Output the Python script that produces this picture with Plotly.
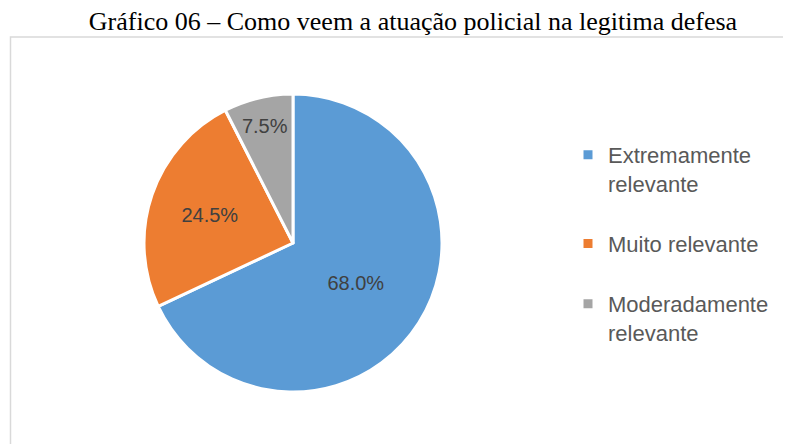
import plotly.graph_objects as go

# Data
categories = ["Extremamente relevante", "Muito relevante", "Moderadamente relevante"]
values = [68.0, 24.5, 7.5]
colors = ["#5B9BD5", "#ED7D31", "#A5A5A5"]
legend_labels = ["Extremamente<br>relevante<br> ", "Muito relevante<br> ", "Moderadamente<br>relevante"]

# page body has an 8px margin, so figure coordinates are offset by 8px
W, H = 791, 444
OFF = 8
cx, cy, r = 293 - OFF, 243 - OFF, 149

fig = go.Figure()
fig.add_trace(go.Pie(
    labels=legend_labels,
    values=values,
    customdata=categories,
    sort=False,
    direction="clockwise",
    rotation=0,
    marker=dict(colors=colors, line=dict(color="white", width=3)),
    texttemplate="%{value:.1f}%",
    textposition="inside",
    insidetextorientation="horizontal",
    textfont=dict(family="Liberation Sans", size=20, color="#404040"),
    hovertemplate="%{customdata}: %{value:.1f}%<extra></extra>",
    domain=dict(x=[(cx - r) / W, (cx + r) / W], y=[(H - cy - r) / H, (H - cy + r) / H]),
))

fig.update_layout(
    width=W, height=H,
    margin=dict(l=0, r=0, t=0, b=0),
    paper_bgcolor="white",
    title=dict(
        text="Gráfico 06 – Como veem a atuação policial na legitima defesa",
        font=dict(family="Liberation Serif", size=26, color="black"),
        x=(413 - OFF) / W, xanchor="center", xref="paper",
        y=1 - (21 - OFF) / H, yanchor="middle", yref="container",
    ),
    legend=dict(
        x=(568 - OFF) / W, xanchor="left",
        y=1 - (134 - OFF) / H, yanchor="top",
        valign="top",
        font=dict(family="Liberation Sans", size=22, color="#595959"),
        bgcolor="rgba(0,0,0,0)",
        traceorder="normal",
    ),
    showlegend=True,
    shapes=[dict(
        type="rect", xref="paper", yref="paper",
        x0=(10.5 - OFF) / W, x1=1.02, y0=-0.05, y1=1 - (37 - OFF) / H,
        line=dict(color="#D9D9D9", width=1.5),
        fillcolor="rgba(0,0,0,0)",
    )],
)

fig.write_html("out.html")
